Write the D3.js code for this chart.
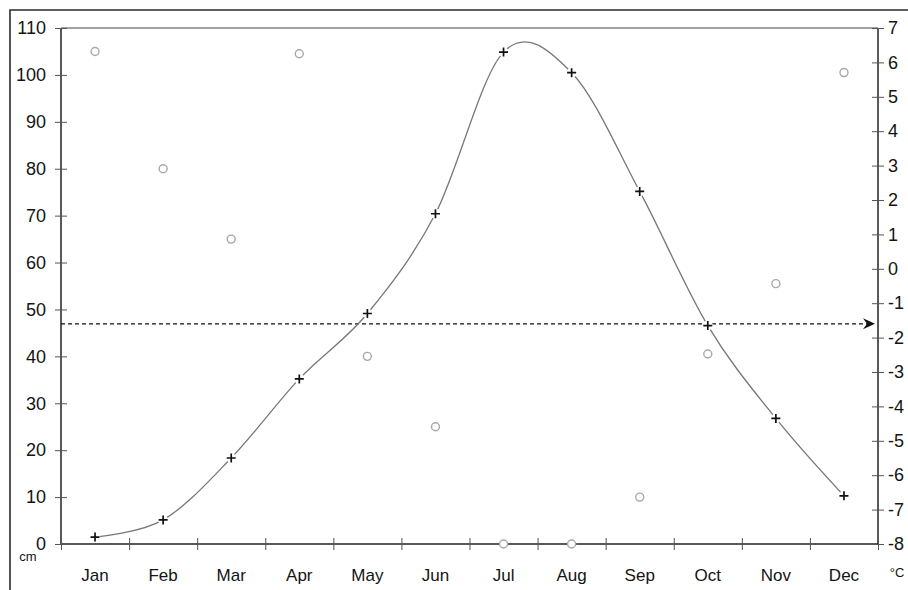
<!DOCTYPE html>
<html>
<head>
<meta charset="utf-8">
<script src="https://cdn.jsdelivr.net/npm/d3@7"></script>
<style>
    body { margin: 0; background: #fff; }
    svg { display: block; font-family: "Liberation Sans", Arial, sans-serif; }
    .axis path { display: none; }
    .axis text { fill: #141414; font-size: 18px; }
    .month-axis text { font-size: 17px; }
</style>
</head>
<body>
<div id="chart"></div>
<script>
// data
const months = ["Jan", "Feb", "Mar", "Apr", "May", "Jun", "Jul", "Aug", "Sep", "Oct", "Nov", "Dec"]
const temperature = [-7.8, -7.3, -5.5, -3.2, -1.3, 1.6, 6.3, 5.7, 2.25, -1.65, -4.35, -6.6]   // °C, crosses
const snowDepth = [105, 80, 65, 104.5, 40, 25, 0, 0, 10, 40.5, 55.5, 100.5]                     // cm, circles
const cmTicks = [0, 10, 20, 30, 40, 50, 60, 70, 80, 90, 100, 110]
const tempTicks = [-8, -7, -6, -5, -4, -3, -2, -1, 0, 1, 2, 3, 4, 5, 6, 7]
const thresholdTemp = -1.6

let margin = { top: 28, right: 30, bottom: 46, left: 61 }
let width = 908 - margin.left - margin.right
let height = 590 - margin.top - margin.bottom

let svg = d3.select("#chart").append("svg")
    .attr("width", 908)
    .attr("height", 590)

// outer frame (only top and left edges visible)
svg.append("path")
    .attr("d", "M10,590 L10,10 L908,10")
    .attr("fill", "none")
    .attr("stroke", "#2a2a2a")
    .attr("stroke-width", 1.6)

let g = svg.append("g")
    .attr("transform", "translate(" + margin.left + "," + margin.top + ")")

// scales
let x = d3.scaleLinear().domain([0, 12]).range([0, width])
let xBand = d3.scaleBand().domain(months).range([0, width])
let yCm = d3.scaleLinear().domain([0, 110]).range([height, 0])
let yTemp = d3.scaleLinear().domain([-8, 7]).range([height, 0])

let cx = m => xBand(m) + xBand.bandwidth() / 2

// plot box lines
g.append("line").attr("x1", 0).attr("x2", width).attr("y1", 0).attr("y2", 0)
    .attr("stroke", "#444").attr("stroke-width", 1)
g.append("line").attr("x1", 0).attr("x2", 0).attr("y1", 0).attr("y2", height)
    .attr("stroke", "#222").attr("stroke-width", 1.5)
g.append("line").attr("x1", width).attr("x2", width).attr("y1", 0).attr("y2", height)
    .attr("stroke", "#222").attr("stroke-width", 1.5)
g.append("line").attr("x1", 0).attr("x2", width).attr("y1", height).attr("y2", height)
    .attr("stroke", "#222").attr("stroke-width", 1.5)

// left axis (cm)
let leftAxis = g.append("g")
    .attr("class", "axis")
    .call(d3.axisLeft(yCm).tickValues(cmTicks).tickSize(6).tickFormat(d => String(d)))
leftAxis.selectAll(".tick line").attr("x2", 6).attr("x1", -6).attr("stroke", "#555")
leftAxis.selectAll(".tick text").attr("x", -15)

// right axis (°C), plain hyphen minus like the original
let rightAxis = g.append("g")
    .attr("class", "axis")
    .attr("transform", "translate(" + width + ",0)")
    .call(d3.axisRight(yTemp).tickValues(tempTicks).tickSize(6).tickFormat(d => String(d)))
rightAxis.selectAll(".tick line").attr("x1", -6).attr("x2", 6).attr("stroke", "#555")
rightAxis.selectAll(".tick text").attr("x", 10)

// bottom axis: ticks at month boundaries, labels at month centres
let bottomTicks = g.append("g")
    .attr("class", "axis")
    .attr("transform", "translate(0," + height + ")")
    .call(d3.axisBottom(x).ticks(12).tickSize(6).tickFormat(""))
bottomTicks.selectAll(".tick line").attr("y1", -6).attr("y2", 6).attr("stroke", "#555")

g.append("g")
    .attr("class", "axis month-axis")
    .attr("transform", "translate(0," + height + ")")
    .call(d3.axisBottom(xBand).tickSize(0).tickPadding(25))

// unit labels
g.append("text")
    .text("cm")
    .attr("x", -33)
    .attr("y", height + 17)
    .attr("text-anchor", "middle")
    .attr("font-size", "13px")
    .attr("fill", "#141414")

g.append("text")
    .text("°C")
    .attr("x", width + 19)
    .attr("y", height + 33)
    .attr("text-anchor", "middle")
    .attr("font-size", "13px")
    .attr("fill", "#141414")

// dashed threshold line with arrow
let yThr = yTemp(thresholdTemp)
g.append("line")
    .attr("x1", 0)
    .attr("x2", width - 8)
    .attr("y1", yThr)
    .attr("y2", yThr)
    .attr("stroke", "#111")
    .attr("stroke-width", 1.4)
    .attr("stroke-dasharray", "4,3")

g.append("path")
    .attr("d", "M" + (width - 3) + "," + yThr +
        " L" + (width - 15) + "," + (yThr - 5.5) +
        " L" + (width - 11) + "," + yThr +
        " L" + (width - 15) + "," + (yThr + 5.5) + " Z")
    .attr("fill", "#111")

// snow depth circles
g.selectAll(".snow")
    .data(months)
    .enter().append("circle")
    .attr("class", "snow")
    .attr("cx", d => cx(d))
    .attr("cy", (d, i) => yCm(snowDepth[i]))
    .attr("r", 4)
    .attr("fill", "#fff")
    .attr("stroke", "#a8a8a8")
    .attr("stroke-width", 1.4)

// temperature curve
let line = d3.line()
    .x(d => cx(d.month))
    .y(d => yTemp(d.value))
    .curve(d3.curveCardinal)

let tempData = months.map((m, i) => ({ month: m, value: temperature[i] }))

g.append("path")
    .datum(tempData)
    .attr("d", line)
    .attr("fill", "none")
    .attr("stroke", "#777")
    .attr("stroke-width", 1.3)

// small white gaps round the crosses
g.selectAll(".gap")
    .data(tempData)
    .enter().append("circle")
    .attr("class", "gap")
    .attr("cx", d => cx(d.month))
    .attr("cy", d => yTemp(d.value))
    .attr("r", 5)
    .attr("fill", "#fff")

g.selectAll(".cross")
    .data(tempData)
    .enter().append("path")
    .attr("class", "cross")
    .attr("transform", d => "translate(" + cx(d.month) + "," + yTemp(d.value) + ")")
    .attr("d", "M-4.5,0 L4.5,0 M0,-4.5 L0,4.5")
    .attr("stroke", "#111")
    .attr("stroke-width", 1.7)
</script>
</body>
</html>
